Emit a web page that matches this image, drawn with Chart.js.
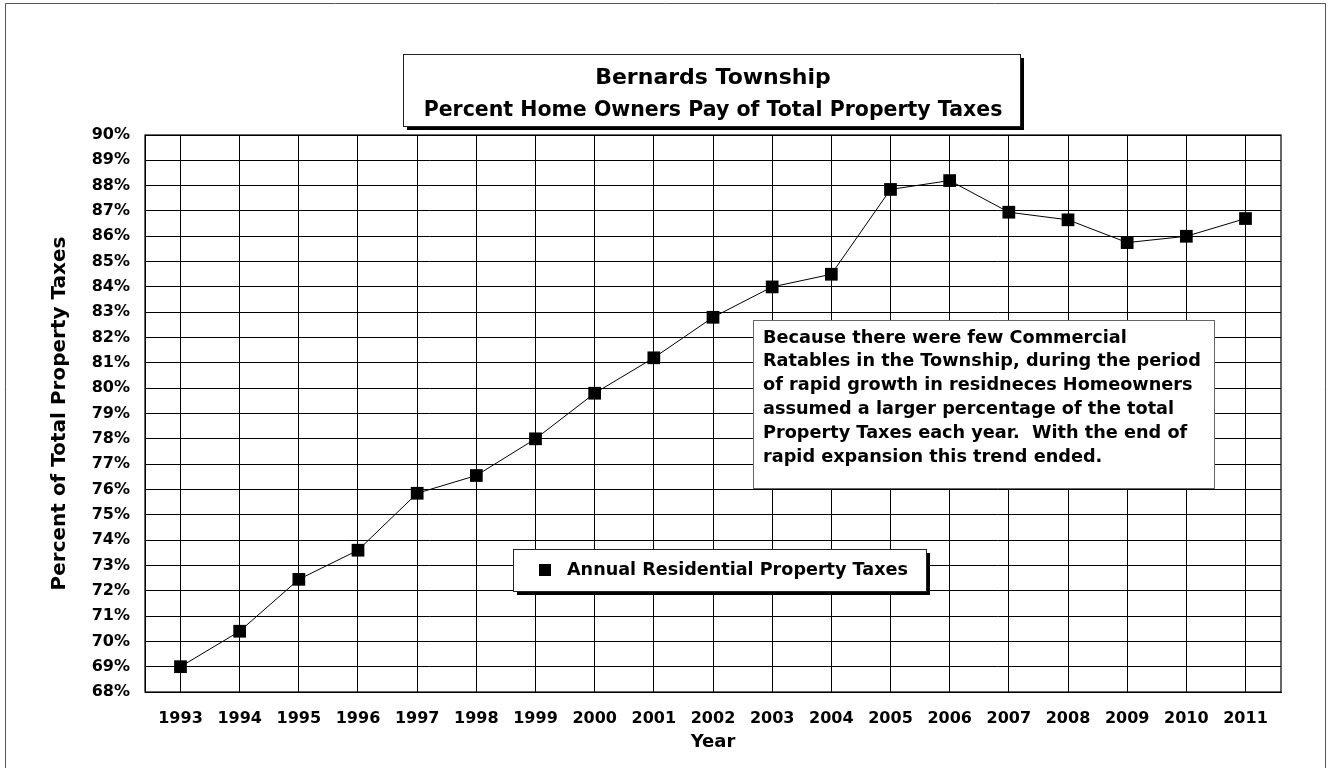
<!DOCTYPE html>
<html>
<head>
<meta charset="utf-8">
<script src="https://cdn.jsdelivr.net/npm/chart.js@4.4.1/dist/chart.umd.min.js"></script>
<style>
html,body{margin:0;padding:0;background:#ffffff;}
#wrap{position:relative;width:1329px;height:768px;}
</style>
</head>
<body>
<div id="wrap"><canvas id="c" width="1329" height="768"></canvas></div>
<script>
// ---- data ----
const years = [1993,1994,1995,1996,1997,1998,1999,2000,2001,2002,2003,2004,2005,2006,2007,2008,2009,2010,2011];
const residentialPct = [69.0,70.4,72.45,73.6,75.85,76.55,78.0,79.8,81.2,82.8,84.0,84.5,87.85,88.2,86.95,86.65,85.75,86.0,86.7];
const yTickValues = [68,69,70,71,72,73,74,75,76,77,78,79,80,81,82,83,84,85,86,87,88,89,90];
const titleText = 'Bernards Township';
const subtitleText = 'Percent Home Owners Pay of Total Property Taxes';
const seriesLabel = 'Annual Residential Property Taxes';
const xAxisTitle = 'Year';
const yAxisTitle = 'Percent of Total Property Taxes';
const noteLines = [
  'Because there were few Commercial',
  'Ratables in the Township, during the period',
  'of rapid growth in residneces Homeowners',
  'assumed a larger percentage of the total',
  'Property Taxes each year.  With the end of',
  'rapid expansion this trend ended.'
];

const FONT = '"DejaVu Sans", "Liberation Sans", Arial, sans-serif';

const points = years.map((y, i) => ({x: y, y: residentialPct[i]}));

const decorPlugin = {
  id: 'decor',
  beforeDraw(chart) {
    const ctx = chart.ctx;
    ctx.save();
    ctx.fillStyle = '#fff';
    ctx.fillRect(0, 0, chart.width, chart.height);
    // outer frame
    ctx.strokeStyle = '#555';
    ctx.lineWidth = 1;
    ctx.beginPath();
    ctx.moveTo(5.5, 800); ctx.lineTo(5.5, 3.5); ctx.lineTo(1325.5, 3.5); ctx.lineTo(1325.5, 800);
    ctx.stroke();
    // title box with shadow
    const tb = {x: 403, y: 54, w: 617, h: 72};
    ctx.fillStyle = '#000';
    ctx.fillRect(tb.x + 4, tb.y + 4, tb.w, tb.h);
    ctx.fillStyle = '#fff';
    ctx.fillRect(tb.x, tb.y, tb.w, tb.h);
    ctx.strokeStyle = '#222';
    ctx.strokeRect(tb.x + 0.5, tb.y + 0.5, tb.w, tb.h);
    ctx.restore();
  },
  beforeDatasetsDraw(chart) {
    const {ctx, chartArea: a} = chart;
    ctx.save();
    ctx.strokeStyle = '#000';
    ctx.lineWidth = 1.2;
    ctx.strokeRect(a.left, a.top, a.right - a.left, a.bottom - a.top);
    ctx.restore();
  },
  afterDatasetsDraw(chart) {
    const ctx = chart.ctx;
    ctx.save();
    // annotation box
    const nb = {x: 753, y: 320, w: 461, h: 168};
    ctx.fillStyle = '#fff';
    ctx.fillRect(nb.x, nb.y, nb.w, nb.h);
    ctx.strokeStyle = '#666';
    ctx.lineWidth = 1;
    ctx.strokeRect(nb.x + 0.5, nb.y + 0.5, nb.w, nb.h);
    ctx.fillStyle = '#000';
    ctx.font = 'bold 17.7px ' + FONT;
    ctx.textBaseline = 'middle';
    ctx.textAlign = 'left';
    noteLines.forEach((t, i) => ctx.fillText(t, nb.x + 10, nb.y + 18 + i * 23.8));
    // legend box with shadow
    const lb = {x: 513, y: 549, w: 413, h: 42};
    ctx.fillStyle = '#000';
    ctx.fillRect(lb.x + 4, lb.y + 4, lb.w, lb.h);
    ctx.fillStyle = '#fff';
    ctx.fillRect(lb.x, lb.y, lb.w, lb.h);
    ctx.strokeStyle = '#222';
    ctx.strokeRect(lb.x + 0.5, lb.y + 0.5, lb.w, lb.h);
    const ds = chart.data.datasets[0];
    ctx.fillStyle = '#000';
    ctx.fillRect(lb.x + 26, lb.y + 15, 12, 12);
    ctx.font = 'bold 17.6px ' + FONT;
    ctx.fillText(ds.label, lb.x + 54, lb.y + 21);
    ctx.restore();
  }
};

new Chart(document.getElementById('c'), {
  type: 'line',
  data: {
    datasets: [{
      label: seriesLabel,
      data: points,
      borderColor: '#000',
      borderWidth: 1,
      backgroundColor: '#000',
      pointStyle: 'rect',
      pointRadius: 9,
      pointHoverRadius: 9,
      pointBackgroundColor: '#000',
      pointBorderColor: '#000',
      pointBorderWidth: 0,
      tension: 0,
      fill: false
    }]
  },
  options: {
    responsive: false,
    animation: false,
    devicePixelRatio: 1,
    layout: {padding: {left: 10, right: 48, top: 0, bottom: 0}},
    plugins: {
      legend: {display: false},
      tooltip: {enabled: false},
      title: {
        display: true,
        fullSize: false,
        text: titleText,
        color: '#000',
        font: {family: FONT, size: 22, weight: 'bold'},
        padding: {top: 65, bottom: 0}
      },
      subtitle: {
        display: true,
        fullSize: false,
        text: subtitleText,
        color: '#000',
        font: {family: FONT, size: 20.5, weight: 'bold'},
        padding: {top: 7, bottom: 12}
      }
    },
    scales: {
      x: {
        type: 'linear',
        min: 1992.4,
        max: 2011.6,
        afterBuildTicks(scale) { scale.ticks = years.map(v => ({value: v})); },
        afterFit(scale) { scale.height = 76; },
        ticks: {
          includeBounds: false,
          autoSkip: false,
          maxRotation: 0,
          color: '#000',
          font: {family: FONT, size: 16, weight: 'bold'},
          padding: 17,
          callback: (v) => String(v)
        },
        grid: {color: '#000', lineWidth: 1, drawTicks: false},
        border: {display: true, color: '#000'},
        title: {
          display: true,
          text: xAxisTitle,
          color: '#000',
          font: {family: FONT, size: 18, weight: 'bold'},
          padding: {top: 0, bottom: 15}
        }
      },
      y: {
        type: 'linear',
        min: 68,
        max: 90,
        afterBuildTicks(scale) { scale.ticks = yTickValues.map(v => ({value: v})); },
        afterFit(scale) { scale.width = 135; },
        ticks: {
          autoSkip: false,
          color: '#000',
          font: {family: FONT, size: 16, weight: 'bold'},
          padding: 15,
          callback: (v) => v + '%'
        },
        grid: {color: '#000', lineWidth: 1, drawTicks: false},
        border: {display: true, color: '#000'},
        title: {
          display: true,
          text: yAxisTitle,
          color: '#000',
          font: {family: FONT, size: 20, weight: 'bold'},
          padding: {top: 38, bottom: 0}
        }
      }
    }
  },
  plugins: [decorPlugin]
});
</script>
</body>
</html>
